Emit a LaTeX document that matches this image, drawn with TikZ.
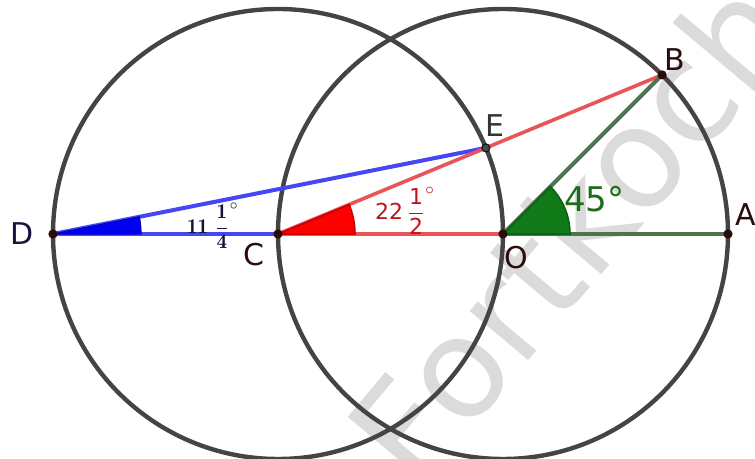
\documentclass[tikz,border=0pt]{standalone}
\usepackage{amsmath,amssymb}
\usepackage{xcolor}
\usepackage{fontspec}
\setsansfont{DejaVu Sans}
\usepackage{tikz}
\usetikzlibrary{positioning}

\definecolor{circgray}{RGB}{68,68,68}
\definecolor{segblue}{RGB}{70,70,245}
\definecolor{segred}{RGB}{232,84,88}
\definecolor{seggreen}{RGB}{76,116,78}
\definecolor{angblue}{RGB}{0,0,240}
\definecolor{angred}{RGB}{255,0,0}
\definecolor{anggreen}{RGB}{16,122,24}
\definecolor{ptdark}{RGB}{42,12,12}
\definecolor{txtred}{RGB}{190,20,30}
\definecolor{txtgreen}{RGB}{26,110,26}
\definecolor{txtnavy}{RGB}{20,20,60}

\begin{document}
\begin{tikzpicture}[x=0.5pt, y=0.5pt,
  circ/.style={draw=circgray, line width=2.2pt},
  seg/.style={line width=2pt, line cap=round},
  ptdot/.style={circle, fill=ptdark, inner sep=0pt, minimum size=4.6pt},
  lbl/.style={font=\sffamily\fontsize{15}{15}\selectfont, text=ptdark, inner sep=0pt},
  anglbl/.style={inner sep=0pt}
]
  \useasboundingbox (-503,-225) rectangle (252,234);

  % watermark
  \node[rotate=50, anchor=base west, inner sep=0pt, text=black!14,
    font=\sffamily\fontsize{70}{70}\selectfont] (wm) at (-86,-260) {Fortkoch};

  \coordinate (O) at (0,0);
  \coordinate (A) at (225,0);
  \coordinate (B) at (45:225);
  \coordinate (C) at (-225,0);
  \coordinate (D) at (-450,0);
  \coordinate (E) at ([shift={(22.5:225)}]C);

  % circles
  \draw[circ] (O) circle[radius=112.5pt];
  \draw[circ] (C) circle[radius=112.5pt];

  % segments
  \draw[seg, segblue] (D) -- (E);
  \draw[seg, segblue] (D) -- (C);
  \draw[seg, segred, line width=1.8pt] (C) -- (B);
  \draw[seg, segred, line width=1.8pt] (C) -- (O);
  \draw[seg, seggreen] (O) -- (A);
  \draw[seg, seggreen] (O) -- (B);

  % angle marks
  \filldraw[fill=angblue, draw=angblue!85!black, line width=0.6pt]
    (D) -- ++(0:44pt) arc[start angle=0, end angle=11.25, radius=44pt] -- cycle;
  \filldraw[fill=angred, draw=angred!80!black, line width=0.8pt]
    (C) -- ++(0:38.5pt) arc[start angle=0, end angle=22.5, radius=38.5pt] -- cycle;
  \filldraw[fill=anggreen, draw=anggreen!80!black, line width=0.8pt]
    (O) -- ++(0:33.5pt) arc[start angle=0, end angle=45, radius=33.5pt] -- cycle;

  % points
  \foreach \p in {O,A,B,C,D}
    \node[ptdot] (d\p) at (\p) {};
  \node[ptdot, fill=black!55!teal!60!gray, draw=ptdark, line width=0.6pt,
    minimum size=4pt] (dE) at (E) {};

  % labels
  \node[lbl, text=txtnavy] (lD) at ([shift={(-15.5pt,0pt)}]D) {D};
  \node[lbl] (lC) at ([shift={(-12pt,-10.25pt)}]C) {C};
  \node[lbl] (lO) at ([shift={(6.75pt,-11.75pt)}]O) {O};
  \node[lbl] (lA) at ([shift={(9pt,9.75pt)}]A) {A};
  \node[lbl] (lB) at ([shift={(6.5pt,7.5pt)}]B) {B};
  \node[lbl, text=black!80] (lE) at ([shift={(4.5pt,11pt)}]E) {E};

  \node[anglbl, text=txtgreen, font=\sffamily\fontsize{17}{17}\selectfont]
    (aO) at ([shift={(45.75pt,17.25pt)}]O) {45°};
  \node[anglbl, text=txtred, font=\fontsize{11}{11}\selectfont]
    (aC) at ([shift={(63.5pt,11.5pt)}]C)
    {$\mathsf{22}\,\dfrac{\mathsf{1}}{\mathsf{2}}^{\circ}$};
  \node[anglbl, text=txtnavy, font=\fontsize{10.5}{10.5}\selectfont]
    (aD) at ([shift={(80pt,4pt)}]D)
    {$\mathbf{11}\;\dfrac{\mathbf{1}}{\mathbf{4}}^{\circ}$};
\end{tikzpicture}
\end{document}
